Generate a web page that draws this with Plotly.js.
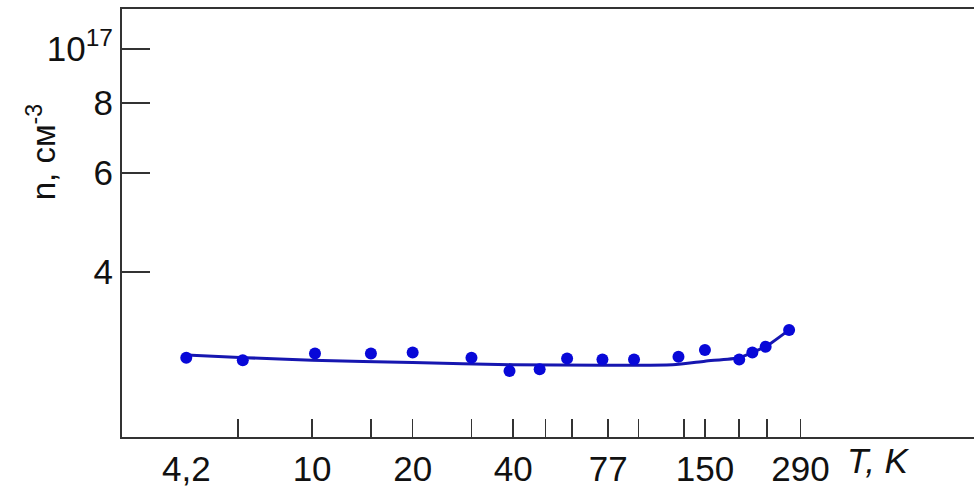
<!DOCTYPE html>
<html>
<head>
<meta charset="utf-8">
<script src="https://cdn.plot.ly/plotly-3.0.1.min.js"></script>
<style>
  html, body { margin: 0; padding: 0; background: #ffffff; }
  #chart { width: 974px; height: 487px; }
</style>
</head>
<body>
<div id="chart"></div>
<script>
// Measured carrier concentration n (cm^-3) versus temperature T (K)
const temperatureK = [4.2, 6.2, 10.2, 15, 20, 30, 39, 48, 58, 74, 92, 125, 150, 190, 208, 228, 268];
const concentration = [2.81e16, 2.78e16, 2.86e16, 2.86e16, 2.87e16, 2.81e16, 2.66e16, 2.68e16,
                       2.80e16, 2.79e16, 2.79e16, 2.82e16, 2.90e16, 2.79e16, 2.87e16, 2.94e16, 3.15e16];

// Smoothed trend drawn through the measurements
const trendT = [4.2, 6.3, 10, 20, 40, 74, 120, 150, 190, 208, 230, 268];
const trendN = [2.84e16, 2.81e16, 2.78e16, 2.755e16, 2.73e16, 2.725e16, 2.73e16, 2.77e16,
                2.81e16, 2.87e16, 2.95e16, 3.15e16];

// Axis ticks
const xTickVals = [10, 20, 40, 77, 150, 290];
const xTickText = ['10', '20', '40', '77', '150', '290'];
const xMinorVals = [6, 15, 30, 50, 60, 95, 130, 190, 230];   // unlabelled marks
const xLowVals = [4.2];          // lowest temperature, labelled without a tick mark
const xLowText = ['4,2'];
const yTickVals = [4e16, 6e16, 8e16, 1e17];
const yTickText = ['4', '6', '8', '10<sup>17</sup>'];

const axisColor = '#333333';
const textColor = '#111111';
const clear = 'rgba(0,0,0,0)';
const fontFamily = '"Liberation Sans", Arial, sans-serif';
const xRange = [0.4308, 2.9817];

const traces = [
  {
    x: trendT, y: trendN,
    type: 'scatter', mode: 'lines',
    line: { color: '#1616b0', width: 3, shape: 'spline', smoothing: 0.6 },
    hoverinfo: 'skip', showlegend: false
  },
  {
    x: temperatureK, y: concentration,
    type: 'scatter', mode: 'markers',
    marker: { color: '#0808d8', size: 12 },
    showlegend: false
  },
  {
    // carries the secondary x axis that holds the "4,2" label
    x: xLowVals, y: [concentration[0]],
    xaxis: 'x2', yaxis: 'y',
    type: 'scatter', mode: 'markers',
    marker: { opacity: 0, size: 1 },
    hoverinfo: 'skip', showlegend: false
  }
];

const layout = {
  width: 974, height: 487,
  margin: { l: 122, r: 0, t: 9, b: 50 },
  paper_bgcolor: '#ffffff', plot_bgcolor: '#ffffff',
  font: { family: fontFamily, color: textColor, size: 34 },
  showlegend: false,
  xaxis: {
    type: 'log',
    range: xRange,
    tickmode: 'array', tickvals: xTickVals, ticktext: xTickText,
    ticks: 'inside', ticklen: 18, tickwidth: 1.5, tickcolor: axisColor,
    minor: {
      tickmode: 'array', tickvals: xMinorVals,
      ticks: 'inside', ticklen: 18, tickwidth: 1.5, tickcolor: axisColor,
      showgrid: false
    },
    tickfont: { size: 35, family: fontFamily, color: textColor },
    showline: true, linecolor: axisColor, linewidth: 2, mirror: true,
    showgrid: false, zeroline: false
  },
  xaxis2: {
    type: 'log',
    range: xRange,
    overlaying: 'x', anchor: 'y', side: 'bottom',
    tickmode: 'array', tickvals: xLowVals, ticktext: xLowText,
    ticks: 'inside', ticklen: 18, tickwidth: 1.5, tickcolor: clear,
    showline: true, linecolor: clear, linewidth: 2,
    showgrid: false, zeroline: false,
    tickfont: { size: 35, family: fontFamily, color: textColor }
  },
  yaxis: {
    type: 'log',
    range: [16.3071, 17.0712],
    tickmode: 'array', tickvals: yTickVals, ticktext: yTickText,
    ticks: 'inside', ticklen: 28, tickwidth: 1.5, tickcolor: axisColor,
    tickfont: { size: 35, family: fontFamily, color: textColor },
    showline: true, linecolor: axisColor, linewidth: 2, mirror: false,
    showgrid: false, zeroline: false
  },
  annotations: [
    {
      x: 0.888, y: 0, xref: 'paper', yref: 'paper',
      yanchor: 'top', xanchor: 'center', yshift: -2,
      text: '<i>T, K</i>', showarrow: false,
      font: { size: 35, family: fontFamily, color: textColor }
    },
    {
      x: -0.094, y: 0.665, xref: 'paper', yref: 'paper',
      xanchor: 'center', yanchor: 'middle', textangle: -90,
      text: 'n, см<sup>-3</sup>', showarrow: false,
      font: { size: 33, family: fontFamily, color: textColor }
    }
  ]
};

Plotly.newPlot('chart', traces, layout, { displayModeBar: false, staticPlot: true });
</script>
</body>
</html>
